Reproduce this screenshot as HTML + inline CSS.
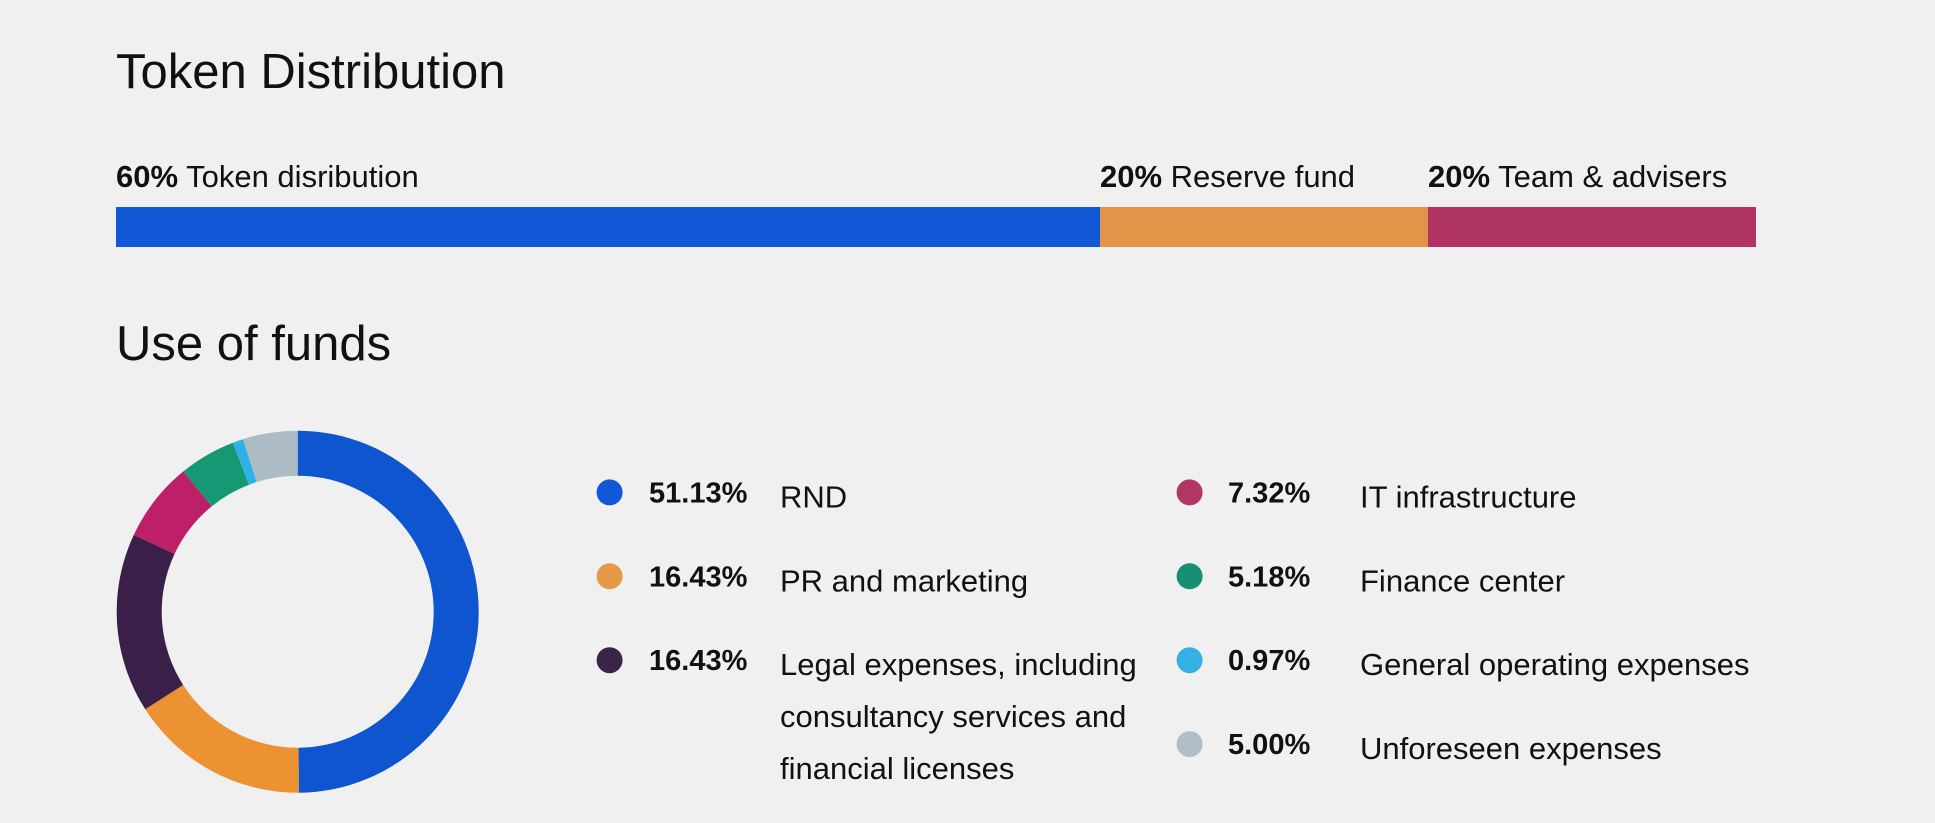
<!DOCTYPE html>
<html><head><meta charset="utf-8">
<style>
html,body{margin:0;padding:0;background:#f0f0f0;}
body{width:1935px;height:818px;overflow:hidden;font-family:"Liberation Sans",sans-serif;}
svg text{font-family:"Liberation Sans",sans-serif;}
</style></head>
<body>
<svg id="chart" width="1935" height="818" viewBox="0 0 1935 818">
  <rect x="0" y="0" width="1935" height="818" fill="#f0f0f0"/>
  <text x="116" y="88" font-size="49" fill="#111">Token Distribution</text>
  <text x="116" y="360" font-size="49" fill="#111">Use of funds</text>
  <g id="bar"></g>
  <g id="donut"></g>
  <g id="legend"></g>
</svg>
<script>
// Token distribution bar data
const barPercents = [60, 20, 20];
const barNames = ["Token disribution", "Reserve fund", "Team & advisers"];
const barColors = ["#1257d6", "#e29548", "#b13564"];

// Use of funds donut data
const fundNames = ["RND", "PR and marketing", "Legal expenses, including|consultancy services and|financial licenses", "IT infrastructure", "Finance center", "General operating expenses", "Unforeseen expenses"];
const fundValues = [51.13, 16.43, 16.43, 7.32, 5.18, 0.97, 5.00];
const fundColors = ["#0f55cf", "#ec9232", "#3a1f48", "#bd2066", "#179874", "#2eb1e6", "#acbbc4"];
const dotColors = ["#1158d8", "#e69a48", "#3a2448", "#b13565", "#178f73", "#34b0e5", "#b0bec5"];

const NS = "http://www.w3.org/2000/svg";
function mk(tag, attrs, parent){ const e=document.createElementNS(NS,tag); for(const k in attrs) e.setAttribute(k,attrs[k]); parent.appendChild(e); return e; }

// Bar
const barG = document.getElementById('bar');
const bx0 = 116, bx1 = 1756, by = 207, bh = 40;
const shareTotal = barPercents.reduce((a,b)=>a+b,0);
const xScale = v => (v/shareTotal)*(bx1-bx0);
let cx = bx0;
barPercents.forEach((s,i)=>{
  const w = xScale(s);
  const r = mk('rect',{x:cx,y:by,width:w,height:bh,fill:barColors[i]},barG);
  
  
  const t = mk('text',{x:cx,y:187,'font-size':31,fill:'#111'},barG);
  
  
  const b = mk('tspan',{'font-weight':'bold'},t); b.textContent = barPercents[i]+'%';
  const n = mk('tspan',{},t); n.textContent = ' '+barNames[i];
  cx += w;
});

// Donut
const dG = document.getElementById('donut');
const dcx = 297.7, dcy = 611.7, R = 181, r0 = 136;
const total = fundValues.reduce((a,b)=>a+b,0);
const ang = v => v/total*2*Math.PI;
let a0 = 0;
function pt(rad,a){ return [dcx+rad*Math.sin(a), dcy-rad*Math.cos(a)]; }
fundValues.forEach((v,i)=>{
  const a1 = a0 + ang(v);
  const large = (a1-a0)>Math.PI?1:0;
  const p1=pt(R,a0),p2=pt(R,a1),p3=pt(r0,a1),p4=pt(r0,a0);
  const d=`M${p1[0]},${p1[1]} A${R},${R} 0 ${large} 1 ${p2[0]},${p2[1]} L${p3[0]},${p3[1]} A${r0},${r0} 0 ${large} 0 ${p4[0]},${p4[1]} Z`;
  const p = mk('path',{d:d,fill:fundColors[i]},dG);
  
  
  a0 = a1;
});

// Legend
const lG = document.getElementById('legend');
const cols = [{dot:609.6,pct:649,lab:780},{dot:1189.6,pct:1228,lab:1360}];
const rowY = [492.4, 576.3, 660.2, 744.1];
fundValues.forEach((v,i)=>{
  const c = i<3 ? cols[0] : cols[1];
  const y = rowY[i<3 ? i : i-3];
  const g = mk('g',{},lG);
  
  
  const d = mk('circle',{cx:c.dot,cy:y,r:13,fill:dotColors[i]},g);
  
  
  const pt2 = mk('text',{x:c.pct,y:y+10,'font-size':29,'font-weight':'bold',fill:'#111'},g);
  
  
  pt2.textContent = v.toFixed(2)+'%';
  fundNames[i].split('|').forEach((line,j)=>{
    const t = mk('text',{x:c.lab,y:y+15+j*52,'font-size':31,fill:'#111'},g);
    
    
    t.textContent = line;
  });
});
</script>
</body></html>
